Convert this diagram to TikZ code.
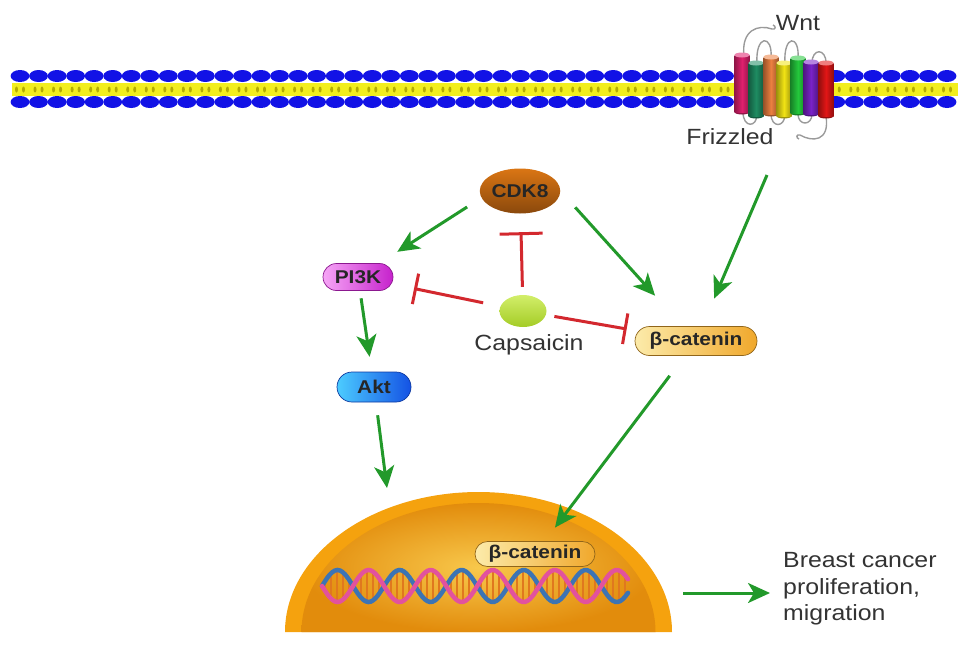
\documentclass[tikz,border=0pt]{standalone}
\usepackage{fontspec}
\setmainfont{Liberation Sans}[FakeStretch=1.13]
\usepackage{tikz}
\usetikzlibrary{arrows.meta,shapes.geometric,shapes.misc}
\definecolor{lipidblue}{HTML}{1212E6}
\definecolor{lipidyellow}{HTML}{F2EE1E}
\definecolor{lipidtail}{HTML}{B3AC00}
\definecolor{actgreen}{HTML}{22992A}
\definecolor{inhred}{HTML}{D3282E}
\definecolor{txtgray}{HTML}{333333}
\definecolor{loopgray}{HTML}{9A9A9A}
\definecolor{fzpink}{HTML}{E0206E}
\definecolor{fzteal}{HTML}{1E8C62}
\definecolor{fzorange}{HTML}{EC8040}
\definecolor{fzyellow}{HTML}{F2E414}
\definecolor{fzgreen}{HTML}{24C83C}
\definecolor{fzpurple}{HTML}{7A22C8}
\definecolor{fzred}{HTML}{E21616}
\definecolor{cdktop}{HTML}{DA7614}
\definecolor{cdkbot}{HTML}{8A480C}
\definecolor{pkleft}{HTML}{F6A6F6}
\definecolor{pkright}{HTML}{C622CC}
\definecolor{aktleft}{HTML}{4CCCFF}
\definecolor{aktright}{HTML}{1452E4}
\definecolor{bcleft}{HTML}{FCEBAA}
\definecolor{bcright}{HTML}{F0A82C}
\definecolor{caplight}{HTML}{D2EE6A}
\definecolor{capdark}{HTML}{A4CC26}
\definecolor{nucrim}{HTML}{F5A20E}
\definecolor{nuclight}{HTML}{F8C84C}
\definecolor{nucdark}{HTML}{E28C0C}
\definecolor{dnapink}{HTML}{E2529E}
\definecolor{dnablue}{HTML}{3C74B4}
\definecolor{dnarung}{HTML}{E0781E}
\def\nlipids{50}
\def\lipidstep{18.54}
\newcommand{\drawmembrane}{
  \fill[lipidyellow] (12,83) rectangle (958,96);
  \foreach \i in {0, ..., \nlipids} {
    \fill[lipidtail] (16.5+\lipidstep*\i, 89.5) ellipse [x radius=1.5, y radius=3];
    \fill[lipidtail] (23.5+\lipidstep*\i, 89.5) ellipse [x radius=1.5, y radius=3];
    \fill[lipidblue] (20+\lipidstep*\i, 76) ellipse [x radius=9.4, y radius=6];
    \fill[lipidblue] (20+\lipidstep*\i, 102) ellipse [x radius=9.4, y radius=6];
  }
}
\newcommand{\drawreceptor}{
  \draw[loopline] (744,56) .. controls (741,30) and (758,24) .. (772,29);
  \draw[loopline] (772,29) .. controls (776,30) and (776,26) .. (773,25);
  \draw[loopline] (757,64) .. controls (755,34) and (773,34) .. (771,58);
  \draw[loopline] (785,64) .. controls (783,34) and (800,34) .. (798,59);
  \draw[loopline] (812,63) .. controls (812,48) and (826,48) .. (826,63);
  \draw[loopline] (743,112) .. controls (743,128) and (757,128) .. (757,114);
  \draw[loopline] (771,114) .. controls (771,128) and (785,128) .. (785,114);
  \draw[loopline] (798,114) .. controls (798,126) and (812,126) .. (812,114);
  \draw[loopline] (826,116) .. controls (830,142) and (812,142) .. (800,135);
  \draw[loopline] (800,135) .. controls (796,134) and (796,138) .. (799,139);
  \foreach \cx/\ctop/\cbot/\ccol in {742/55/112/fzpink, 756/63/116/fzteal,
      771/57/114/fzorange, 784/63/116/fzyellow, 798/58/113/fzgreen,
      811/62/114/fzpurple, 826/63/116/fzred} {
    \fill[\ccol!65!black] (\cx,\cbot) ellipse [x radius=7.5, y radius=2.5];
    \shade[left color=\ccol!65!black, right color=\ccol!65!black, middle color=\ccol]
      (\cx-7.5,\ctop) rectangle (\cx+7.5,\cbot);
    \fill[\ccol!55!white] (\cx,\ctop) ellipse [x radius=7.5, y radius=2.5];
  }
}

\begin{document}
\begin{tikzpicture}[x=1pt, y=-1pt,
    loopline/.style={draw=loopgray, line width=1.4pt},
    lbl/.style={font=\fontsize{18.5}{20}\selectfont\bfseries, text=black!85, inner sep=0pt},
    pill/.style={lbl, rounded rectangle, line width=0.7pt},
    txt/.style={font=\fontsize{22}{26.7}\selectfont, text=txtgray, inner sep=0pt},
    act/.style={draw=actgreen, line width=3pt, -{Stealth[length=22pt, width=20pt, inset=6pt]}},
    inh/.style={draw=inhred, line width=3pt, -{Bar[width=#1, line width=3pt]}}, inh/.default=31pt,
    strand/.style={line width=4.5pt, line cap=round},
    rungline/.style={draw=dnarung, line width=2.2pt}]
  \useasboundingbox (0,0) rectangle (969,646);
  \drawmembrane{}
  \drawreceptor{}
  \node[txt, anchor=base] (wnt) at (798,30) {Wnt};
  \node[txt, anchor=base] (fzd) at (730,144) {Frizzled};

  % nucleus
  \fill[nucrim] (285,632) arc[start angle=180, end angle=0, x radius=193.5pt, y radius=140pt] -- cycle;
  \shade[inner color=nuclight, outer color=nucdark] (301.5,632)
    arc[start angle=180, end angle=0, x radius=177pt, y radius=129pt] -- cycle;
  \foreach \r in {325,331,...,625} {
    \draw[rungline] (\r, {586+15*sin((\r-322)*5.8)}) -- (\r, {586-15*sin((\r-322)*5.8)});
  }
  \draw[strand, dnablue] plot[domain=322:628, samples=120, smooth] (\x, {586-16*sin((\x-322)*5.8)});
  \draw[strand, dnapink] plot[domain=322:628, samples=120, smooth] (\x, {586+16*sin((\x-322)*5.8)});

  % proteins
  \node[lbl, ellipse, top color=cdktop, bottom color=cdkbot, minimum width=73pt, minimum height=45pt] (cdk) at (520,191) {CDK8};
  \node[pill, left color=pkleft, right color=pkright, draw=pkright!70!black, minimum width=70pt, minimum height=27pt] (pi3k) at (358,277) {PI3K};
  \node[pill, left color=aktleft, right color=aktright, draw=aktright!70!black, minimum width=74pt, minimum height=30pt] (akt) at (374,387) {Akt};
  \node[ellipse, top color=caplight, bottom color=capdark, minimum width=47pt, minimum height=32pt, inner sep=0pt] (cap) at (523,311) {};
  \node[txt, anchor=base] (caplbl) at (529,350) {Capsaicin};
  \node[pill, left color=bcleft, right color=bcright, draw=bcright!60!black, minimum width=122pt, minimum height=29pt] (bcat) at (696,341) {β-catenin};
  \node[pill, left color=bcleft, right color=bcright, draw=bcright!60!black, minimum width=120pt, minimum height=25pt] (nbcat) at (535,554) {β-catenin};
  \node[txt, anchor=north west, align=left] (outcome) at (783,552) {Breast cancer\\proliferation,\\migration};

  \coordinate (fzdout) at (767,175);
  \coordinate (nucin) at (387,488);
  \coordinate (nucout) at (683,593);

  % activation
  \draw[act, shorten <=17pt, shorten >=21pt] (cdk.190) -- (pi3k);
  \draw[act, shorten <=22pt, shorten >=41pt] (cdk.east) -- (bcat);
  \draw[act, shorten >=30pt] (fzdout) -- (bcat);
  \draw[act, shorten <=7.5pt, shorten >=15pt] (pi3k) -- (akt);
  \draw[act, shorten <=13pt] (akt) -- (nucin);
  \draw[act, shorten <=25pt, shorten >=17pt] (bcat) -- (nbcat);
  \draw[act, shorten >=13pt] (nucout) -- (nucout -| outcome.west);

  % inhibition
  \draw[inh=43pt, shorten <=8pt, shorten >=18.5pt] (cap) -- (cdk);
  \draw[inh, shorten <=17.5pt, shorten >=23pt] (cap) -- (pi3k);
  \draw[inh, shorten <=8.5pt, shorten >=12pt] (cap) -- (bcat);
\end{tikzpicture}
\end{document}
